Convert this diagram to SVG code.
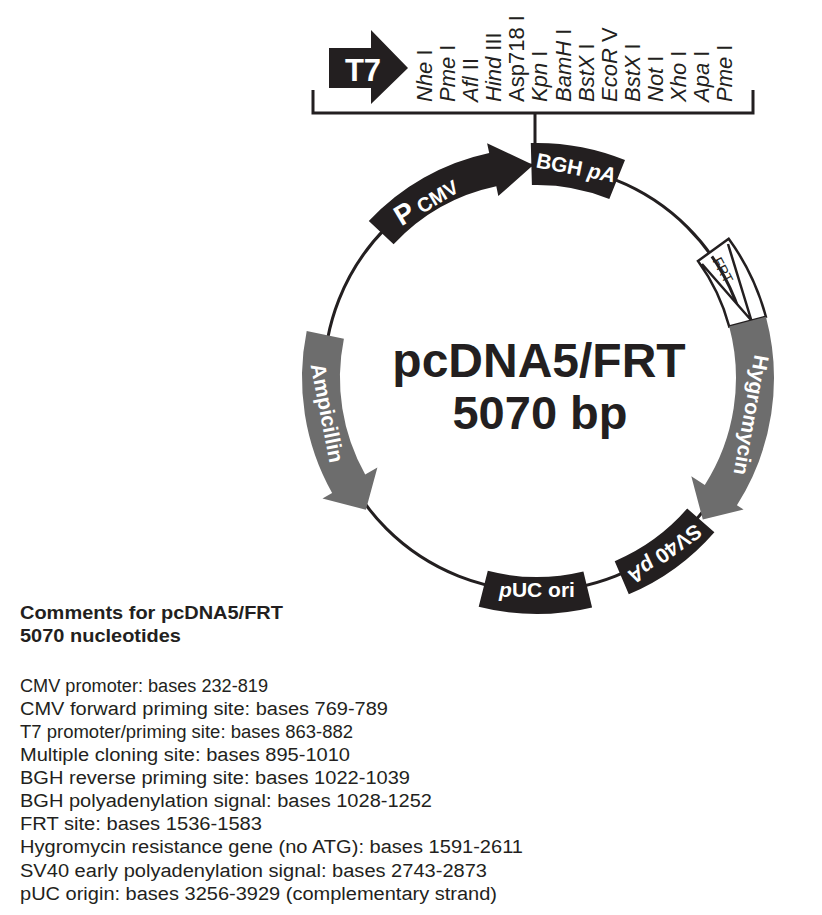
<svg xmlns="http://www.w3.org/2000/svg" width="822" height="915" viewBox="0 0 822 915">
<style>
text{font-family:"Liberation Sans",Arial,sans-serif}
.blk{fill:#231f20}
.gry{fill:#6d6d6d}
.lbl{fill:#fff;font-weight:bold;font-size:21px;text-anchor:middle}
.enz{font-size:22px;fill:#231f20}
.ln{stroke:#231f20;stroke-width:3;fill:none}
.cm{font-size:18px;fill:#231f20}
.it{font-style:italic}
</style>
<rect width="822" height="915" fill="#fff"/>
<g id="connectors">
<circle class="ln" cx="537" cy="378" r="213"/>
<path class="ln" d="M313,90 V113 H753 V90 M535,113 V144"/>
</g>
<g id="t7">
<path class="blk" d="M329,48 H371 V30 L408,68 L371,104 V88 H329 Z"/>
<text x="363" y="81" style="fill:#fff;font-weight:bold;font-size:31px;text-anchor:middle">T7</text>
</g>
<g id="mcs">
<text class="enz" transform="translate(432,102) rotate(-90)"><tspan class="it">Nhe</tspan> I</text>
<text class="enz" transform="translate(455.1,102) rotate(-90)"><tspan class="it">Pme</tspan> I</text>
<text class="enz" transform="translate(478.2,102) rotate(-90)"><tspan class="it">Afl</tspan> II</text>
<text class="enz" transform="translate(501.2,102) rotate(-90)"><tspan class="it">Hind</tspan> III</text>
<text class="enz" transform="translate(524.3,102) rotate(-90)">Asp718 I</text>
<text class="enz" transform="translate(547.4,102) rotate(-90)"><tspan class="it">Kpn</tspan> I</text>
<text class="enz" transform="translate(570.5,102) rotate(-90)"><tspan class="it">BamH</tspan> I</text>
<text class="enz" transform="translate(593.6,102) rotate(-90)"><tspan class="it">BstX</tspan> I</text>
<text class="enz" transform="translate(616.6,102) rotate(-90)"><tspan class="it">EcoR</tspan> V</text>
<text class="enz" transform="translate(639.7,102) rotate(-90)"><tspan class="it">BstX</tspan> I</text>
<text class="enz" transform="translate(662.8,102) rotate(-90)"><tspan class="it">Not</tspan> I</text>
<text class="enz" transform="translate(685.9,102) rotate(-90)"><tspan class="it">Xho</tspan> I</text>
<text class="enz" transform="translate(709,102) rotate(-90)"><tspan class="it">Apa</tspan> I</text>
<text class="enz" transform="translate(732,102) rotate(-90)"><tspan class="it">Pme</tspan> I</text>
</g>
<g id="pcmv">
<path class="blk" d="M368.8,221.1 A230,230 0 0 1 489.2,153 L487.1,143.3 L533.3,165 L498.3,196.1 L496.3,186.3 A196,196 0 0 0 393.6,244.3 Z"/>
<text transform="translate(426,201) rotate(-31)" style="fill:#fff;font-weight:bold;text-anchor:middle" dy="9"><tspan font-size="28">P</tspan><tspan font-size="20"> CMV</tspan></text>
</g>
<g id="bgh">
<path class="blk" d="M530.8,143.1 A235,235 0 0 1 625,160.1 L609.3,199 A193,193 0 0 0 531.9,185.1 Z"/>
<text class="lbl" transform="translate(576,168) rotate(11)" dy="7">BGH <tspan class="it">pA</tspan></text>
</g>
<g id="frt">
<path d="M728.7,238.7 A237,237 0 0 1 765.9,316.7 L729.2,326.5 A199,199 0 0 0 698,261 Z M702,264 L751.4,320.5 L728,244" fill="#fff" stroke="#231f20" stroke-width="2.5"/>
<text transform="translate(723,270) rotate(62)" style="font-size:14px;fill:#231f20;text-anchor:middle" dy="5">FRT</text>
</g>
<g id="hygromycin">
<path class="gry" d="M765.9,316.7 A237,237 0 0 1 736.9,505.3 L743.6,509.6 L702.8,519.6 L691.3,476.3 L704.8,484.9 A199,199 0 0 0 729.2,326.5 Z"/>
<text class="lbl" transform="translate(751,415) rotate(100)" dy="7">Hygromycin</text>
</g>
<g id="sv40">
<path class="blk" d="M714.4,532.2 A235,235 0 0 1 628.8,594.3 L614.7,561.2 A199,199 0 0 0 687.2,508.6 Z"/>
<text class="lbl" transform="translate(664.6,553.6) rotate(144)" dy="7">SV40 <tspan class="it">pA</tspan></text>
</g>
<g id="puc">
<path class="blk" d="M592.1,607.5 A236,236 0 0 1 478.7,606.7 L487.8,570.8 A199,199 0 0 0 583.4,571.5 Z"/>
<text class="lbl" x="537" y="597"><tspan class="it">p</tspan>UC ori</text>
</g>
<g id="ampicillin">
<path class="gry" d="M306.7,331.1 A235,235 0 0 0 332.1,493 L322.5,498.4 L365.9,509.8 L377.4,467.6 L365.2,474.4 A197,197 0 0 1 343.9,338.7 Z"/>
<text class="lbl" transform="translate(327,413) rotate(79)" dy="7">Ampicillin</text>
</g>
<g id="title">
<text x="539" y="377" style="font-weight:bold;font-size:48px;text-anchor:middle;fill:#231f20">pcDNA5/FRT</text>
<text x="540" y="429" style="font-weight:bold;font-size:47px;text-anchor:middle;fill:#231f20">5070 bp</text>
</g>
<g id="comments">
<text class="cm" x="20" y="619" font-weight="bold" textLength="263" lengthAdjust="spacingAndGlyphs">Comments for pcDNA5/FRT</text>
<text class="cm" x="20" y="642" font-weight="bold" textLength="161" lengthAdjust="spacingAndGlyphs">5070 nucleotides</text>
<text class="cm" x="20" y="692" textLength="248" lengthAdjust="spacingAndGlyphs">CMV promoter: bases 232-819</text>
<text class="cm" x="20" y="715" textLength="368" lengthAdjust="spacingAndGlyphs">CMV forward priming site: bases 769-789</text>
<text class="cm" x="20" y="738" textLength="333" lengthAdjust="spacingAndGlyphs">T7 promoter/priming site: bases 863-882</text>
<text class="cm" x="20" y="761" textLength="330" lengthAdjust="spacingAndGlyphs">Multiple cloning site: bases 895-1010</text>
<text class="cm" x="20" y="784" textLength="390" lengthAdjust="spacingAndGlyphs">BGH reverse priming site: bases 1022-1039</text>
<text class="cm" x="20" y="807" textLength="412" lengthAdjust="spacingAndGlyphs">BGH polyadenylation signal: bases 1028-1252</text>
<text class="cm" x="20" y="830" textLength="242" lengthAdjust="spacingAndGlyphs">FRT site: bases 1536-1583</text>
<text class="cm" x="20" y="853" textLength="503" lengthAdjust="spacingAndGlyphs">Hygromycin resistance gene (no ATG): bases 1591-2611</text>
<text class="cm" x="20" y="877" textLength="467" lengthAdjust="spacingAndGlyphs">SV40 early polyadenylation signal: bases 2743-2873</text>
<text class="cm" x="20" y="900" textLength="477" lengthAdjust="spacingAndGlyphs">pUC origin: bases 3256-3929 (complementary strand)</text>
</g>
</svg>
